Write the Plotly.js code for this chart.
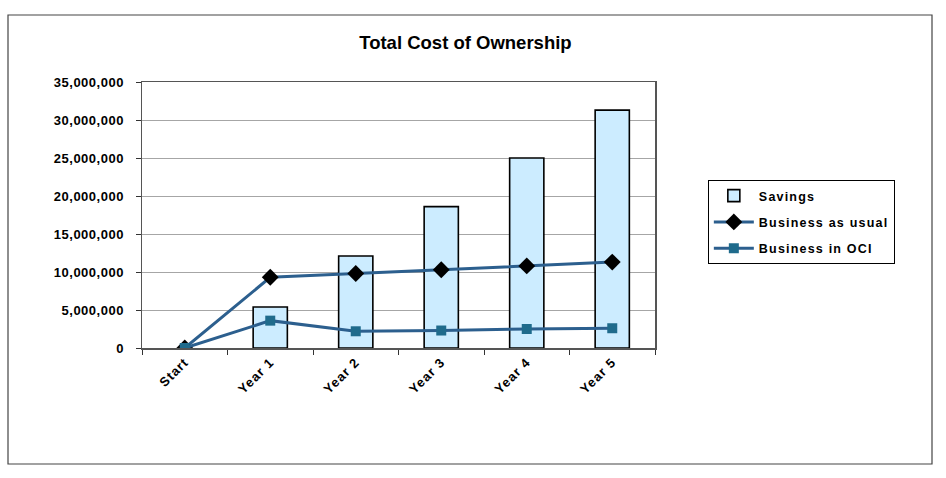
<!DOCTYPE html>
<html>
<head>
<meta charset="utf-8">
<script src="https://cdn.plot.ly/plotly-3.0.1.min.js"></script>
<style>
html,body{margin:0;padding:0;background:#fff;}
#chart{width:946px;height:478px;}
text.legendtext{letter-spacing:1.2px;}
.ytick text{letter-spacing:0.5px;}
.xtick text{letter-spacing:1px;}
</style>
</head>
<body>
<div id="chart"></div>
<script>
const categories = ["Start", "Year 1", "Year 2", "Year 3", "Year 4", "Year 5"];
const savings = [0, 5400000, 12100000, 18600000, 25000000, 31300000];
const businessAsUsual = [0, 9300000, 9800000, 10300000, 10800000, 11300000];
const businessInOCI = [0, 3600000, 2200000, 2300000, 2500000, 2600000];
const yTicks = [0, 5000000, 10000000, 15000000, 20000000, 25000000, 30000000, 35000000];

const lineColor = "#2C5F8E";
const data = [
  {
    type: "bar", name: "Savings", x: categories, y: savings.map(v => v === 0 ? null : v), width: 0.4,
    legendgroup: "a",
    marker: {color: "#CCECFF", line: {color: "#000000", width: 1.6}}
  },
  {
    type: "scatter", mode: "lines+markers", name: "Business as usual", x: categories, y: businessAsUsual,
    legendgroup: "b",
    line: {color: lineColor, width: 3},
    marker: {symbol: "diamond", size: 13, color: "#000000"}
  },
  {
    type: "scatter", mode: "lines+markers", name: "Business in OCI", x: categories, y: businessInOCI,
    legendgroup: "c",
    line: {color: lineColor, width: 3},
    marker: {symbol: "square", size: 10, color: "#1F6B8C"}
  }
];

const fam = "Liberation Sans, Arial, sans-serif";
const layout = {
  width: 946, height: 478,
  margin: {l: 142, r: 291, t: 82, b: 130},
  paper_bgcolor: "#ffffff", plot_bgcolor: "#ffffff",
  font: {family: fam, color: "#000000", size: 12, weight: "bold"},
  showlegend: true,
  hovermode: false,
  title: {text: "Total Cost of Ownership", font: {family: fam, size: 18.5, weight: "bold", color: "#000"}, x: 0.492, xanchor: "center", y: 0.91, yanchor: "middle"},
  xaxis: {
    type: "category", tickson: "boundaries", ticks: "outside", ticklen: 5, tickcolor: "#333",
    tickangle: -45, showline: true, linecolor: "#555", linewidth: 1.5, mirror: true,
    showgrid: false, tickfont: {family: fam, size: 13, weight: "bold", color: "#000"}
  },
  yaxis: {
    range: [0, 35000000], tickvals: yTicks, tickformat: ",d", ticks: "outside", ticklen: 5, tickcolor: "#333",
    ticklabelstandoff: 9,
    showline: true, linecolor: "#555", linewidth: 1.5, mirror: true,
    showgrid: true, gridcolor: "#A6A6A6", gridwidth: 1, zeroline: false,
    tickfont: {family: fam, size: 13, weight: "bold", color: "#000"}
  },
  legend: {
    x: 1.103, xanchor: "left", y: (348 - 180) / 266, yanchor: "top",
    bgcolor: "#ffffff", bordercolor: "#000000", borderwidth: 1,
    font: {family: fam, size: 12.5, weight: "bold", color: "#000"},
    traceorder: "grouped", tracegroupgap: 7, itemwidth: 40
  },
  shapes: [{
    type: "rect", xref: "paper", yref: "paper",
    x0: (8 - 142) / 513, x1: (932 - 142) / 513,
    y0: (348 - 464) / 266, y1: (348 - 15) / 266,
    line: {color: "#444", width: 1.2}, fillcolor: "rgba(0,0,0,0)", layer: "below"
  }]
};
Plotly.newPlot("chart", data, layout, {displayModeBar: false, staticPlot: true});
</script>
</body>
</html>
